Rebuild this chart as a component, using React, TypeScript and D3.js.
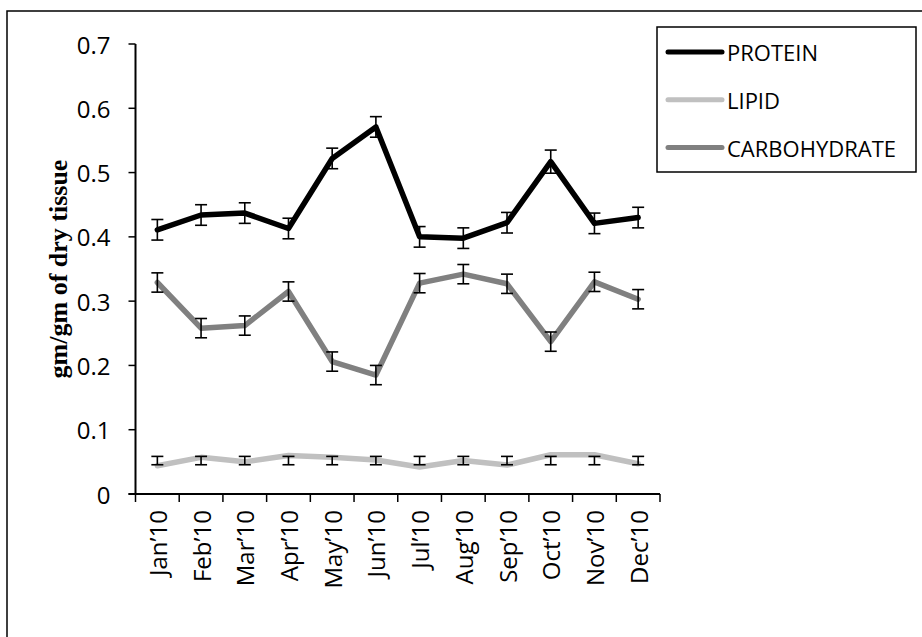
import React from "react";
import * as d3 from "d3";

const months = ["Jan\u201910", "Feb\u201910", "Mar\u201910", "Apr\u201910", "May\u201910", "Jun\u201910", "Jul\u201910", "Aug\u201910", "Sep\u201910", "Oct\u201910", "Nov\u201910", "Dec\u201910"];
const protein = [0.411, 0.434, 0.437, 0.413, 0.522, 0.571, 0.4, 0.398, 0.422, 0.517, 0.421, 0.43];
const proteinErr = [0.016, 0.016, 0.016, 0.016, 0.016, 0.016, 0.016, 0.016, 0.016, 0.018, 0.016, 0.016];
const lipid = [0.044, 0.057, 0.05, 0.06, 0.057, 0.053, 0.042, 0.052, 0.045, 0.061, 0.061, 0.047];
const lipidBarMid = [0.052, 0.052, 0.052, 0.052, 0.052, 0.052, 0.052, 0.052, 0.052, 0.052, 0.052, 0.052];
const lipidErr = [0.0065, 0.0065, 0.0065, 0.0065, 0.0065, 0.0065, 0.0065, 0.0065, 0.0065, 0.0065, 0.0065, 0.0065];
const carbohydrate = [0.329, 0.258, 0.262, 0.315, 0.206, 0.185, 0.328, 0.342, 0.327, 0.237, 0.33, 0.303];
const carbohydrateErr = [0.015, 0.015, 0.015, 0.015, 0.015, 0.015, 0.015, 0.015, 0.015, 0.015, 0.015, 0.015];
const yTicks = [0, 0.1, 0.2, 0.3, 0.4, 0.5, 0.6, 0.7];
const seriesNames = ["PROTEIN", "LIPID", "CARBOHYDRATE"];
const seriesColors = ["#000000", "#c0c0c0", "#808080"];

const W = 922;
const H = 637;
const plot = { left: 135.5, right: 660, top: 44, bottom: 494 };

export default function App() {
  const x = d3.scaleBand<string>().domain(months).range([plot.left, plot.right]);
  const y = d3.scaleLinear().domain([0, 0.7]).range([plot.bottom, plot.top]);
  const cx = (m: string) => (x(m) as number) + x.bandwidth() / 2;
  const line = d3
    .line<number>()
    .x((_, i) => cx(months[i]))
    .y((v) => y(v));

  const series = [
    { name: seriesNames[0], color: seriesColors[0], values: protein, mid: protein, err: proteinErr },
    { name: seriesNames[1], color: seriesColors[1], values: lipid, mid: lipidBarMid, err: lipidErr },
    { name: seriesNames[2], color: seriesColors[2], values: carbohydrate, mid: carbohydrate, err: carbohydrateErr },
  ];
  const font = "'Open Sans', 'Liberation Sans', sans-serif";
  const boundaries = d3.range(months.length + 1).map((i) =>
    i < months.length ? (x(months[i]) as number) : plot.right
  );

  return (
    <svg width={W} height={H} style={{ position: "absolute", left: 0, top: 0, background: "#fff" }}>
      <rect x={7} y={11} width={960} height={700} fill="#fff" stroke="#000" strokeWidth={1.5} />
      {/* lines */}
      {series.map((s) => (
        <path key={s.name} d={line(s.values) || ""} fill="none" stroke={s.color} strokeWidth={5.5} strokeLinejoin="round" strokeLinecap="round" />
      ))}
      {/* error bars */}
      {series.map((s) =>
        months.map((m, i) => {
          const xx = cx(m);
          const y1 = y(s.mid[i] + s.err[i]);
          const y2 = y(s.mid[i] - s.err[i]);
          return (
            <g key={s.name + m} stroke="#000" strokeWidth={1.6}>
              <line x1={xx} x2={xx} y1={y1} y2={y2} />
              <line x1={xx - 6} x2={xx + 6} y1={y1} y2={y1} />
              <line x1={xx - 6} x2={xx + 6} y1={y2} y2={y2} />
            </g>
          );
        })
      )}
      {/* y axis */}
      <line x1={plot.left} x2={plot.left} y1={plot.top} y2={plot.bottom} stroke="#000" strokeWidth={2} />
      {yTicks.map((t) => (
        <g key={t}>
          <line x1={plot.left - 7} x2={plot.left} y1={y(t)} y2={y(t)} stroke="#000" strokeWidth={1.5} />
          <text x={plot.left - 25} y={y(t)} textAnchor="end" dominantBaseline="central" fontFamily={font} fontSize={24} fill="#000">
            {t === 0 ? "0" : t.toFixed(1)}
          </text>
        </g>
      ))}
      {/* x axis */}
      <line x1={plot.left - 7} x2={plot.right} y1={plot.bottom} y2={plot.bottom} stroke="#000" strokeWidth={2} />
      {boundaries.map((b, i) => (
        <line key={i} x1={b} x2={b} y1={plot.bottom} y2={plot.bottom + 8} stroke="#000" strokeWidth={1.5} />
      ))}
      {months.map((m) => (
        <text
          key={m}
          transform={`translate(${cx(m)},${plot.bottom + 16}) rotate(-90)`}
          textAnchor="end"
          dominantBaseline="central"
          fontFamily={font}
          fontSize={24}
          fill="#000"
        >
          {m}
        </text>
      ))}
      {/* y title */}
      <text
        transform={`translate(58,269) rotate(-90)`}
        textAnchor="middle"
        dominantBaseline="central"
        fontFamily="'Liberation Serif', 'Times New Roman', serif"
        fontWeight="bold"
        fontSize={26}
        fill="#000"
      >
        gm/gm of dry tissue
      </text>
      {/* legend */}
      <rect x={657} y={27} width={259} height={145} fill="#fff" stroke="#000" strokeWidth={1.5} />
      {series.map((s, i) => {
        const ly = 52 + i * 47.8;
        return (
          <g key={s.name}>
            <line x1={668} x2={722} y1={ly} y2={ly} stroke={s.color} strokeWidth={5} strokeLinecap="round" />
            <text x={727} y={ly} dominantBaseline="central" fontFamily={font} fontSize={22} fill="#000">
              {s.name}
            </text>
          </g>
        );
      })}
    </svg>
  );
}
